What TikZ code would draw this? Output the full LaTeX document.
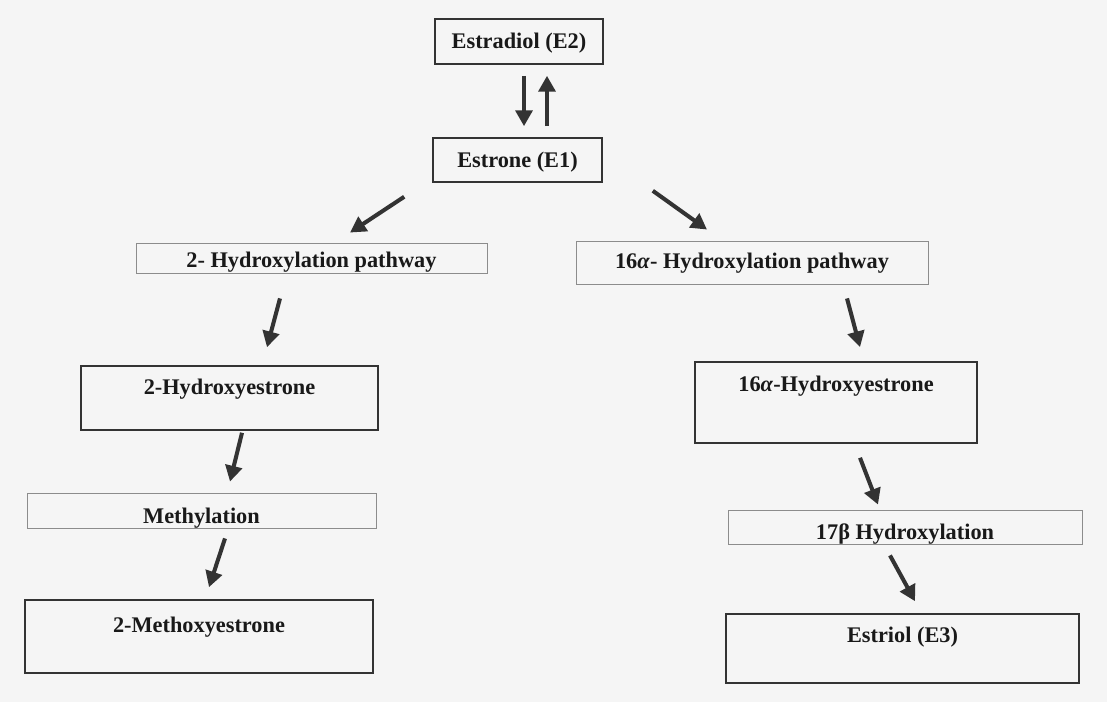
\documentclass[tikz,border=0pt]{standalone}
\usepackage{fontspec}
\setmainfont{Liberation Serif}
\usepackage{xcolor}
\usepackage{tikz}
\usetikzlibrary{arrows.meta, positioning, calc}

\tikzset{
    stage/.style={rectangle, draw=black!80, line width=0.9pt, inner sep=0pt, align=center, text=black!90},
    pathway/.style={rectangle, draw=black!45, line width=0.5pt, inner sep=0pt, align=center, text=black!90},
    flow/.style={-{Triangle[length=9pt, width=9.5pt]}, line width=2.3pt, draw=black!80}
}

\begin{document}
\begin{tikzpicture}[font=\fontsize{12.7}{15}\selectfont\bfseries]
    \useasboundingbox[fill=black!4] (0,0) rectangle (22.14,-14.04);

    % estrogen ladder
    \node [stage, minimum width=3.36cm, minimum height=0.9cm, text height=0.45cm, text depth=0.15cm] (e2) at (10.38,-0.83) {Estradiol (E2)};
    \node [stage, minimum width=3.38cm, minimum height=0.88cm, text height=0.46cm, text depth=0.14cm] (e1) at (10.35,-3.2) {Estrone (E1)};

    % left branch
    \node [pathway, minimum width=7.02cm, minimum height=0.6cm, text height=0.5cm, text depth=0.1cm] (hyd2) at (6.23,-5.16) {2- Hydroxylation pathway};
    \node [stage, minimum width=5.94cm, minimum height=1.28cm, text height=0.24cm, text depth=0.36cm] (oh2) at (4.59,-7.96) {2-Hydroxyestrone};
    \node [pathway, minimum width=6.98cm, minimum height=0.7cm, text height=0.55cm, text depth=0.05cm] (meth) at (4.03,-10.21) {Methylation};
    \node [stage, minimum width=6.96cm, minimum height=1.46cm, text height=0.21cm, text depth=0.39cm] (meo2) at (3.98,-12.73) {2-Methoxyestrone};

    % right branch
    \node [pathway, minimum width=7.04cm, minimum height=0.86cm, text height=0.43cm, text depth=0.17cm] (hyd16) at (15.04,-5.25) {16\textit{α}- Hydroxylation pathway};
    \node [stage, minimum width=5.64cm, minimum height=1.62cm, text height=0.09cm, text depth=0.51cm] (oh16) at (16.72,-8.05) {16\textit{α}-Hydroxyestrone};
    \node [pathway, minimum width=7.08cm, minimum height=0.68cm, text height=0.56cm, text depth=0.04cm] (b17) at (18.1,-10.54) {17β Hydroxylation};
    \node [stage, minimum width=7.06cm, minimum height=1.38cm, text height=0.17cm, text depth=0.43cm] (e3) at (18.05,-12.97) {Estriol (E3)};

    % arrows
    \draw [flow] ([shift={(0.1,-0.22)}]e2.south) -- ([shift={(0.13,0.22)}]e1.north);
    \draw [flow] ([shift={(0.59,0.22)}]e1.north) -- ([shift={(0.56,-0.22)}]e2.south);
    \draw [flow] ([shift={(-0.56,-0.28)}]e1.south west) -- ([shift={(0.77,0.2)}]hyd2.north);
    \draw [flow] ([shift={(1.0,-0.16)}]e1.south east) -- ([shift={(-0.9,0.22)}]hyd16.north);
    \draw [flow] ([shift={(-0.63,-0.5)}]hyd2.south) -- ([shift={(0.75,0.36)}]oh2.north);
    \draw [flow] ([shift={(1.9,-0.28)}]hyd16.south) -- ([shift={(0.48,0.28)}]oh16.north);
    \draw [flow] ([shift={(0.25,-0.04)}]oh2.south) -- ([shift={(0.57,0.22)}]meth.north);
    \draw [flow] ([shift={(0.48,-0.28)}]oh16.south) -- ([shift={(-0.54,0.1)}]b17.north);
    \draw [flow] ([shift={(0.47,-0.2)}]meth.south) -- ([shift={(0.2,0.24)}]meo2.north);
    \draw [flow] ([shift={(-0.3,-0.22)}]b17.south) -- ([shift={(0.25,0.24)}]e3.north);
\end{tikzpicture}
\end{document}
